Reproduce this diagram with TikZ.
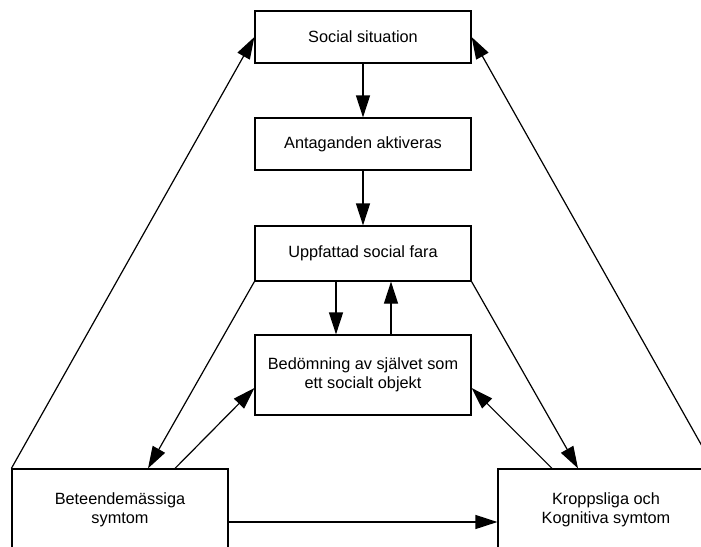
\documentclass[tikz,border=0pt]{standalone}
\usepackage{fontspec}
\setmainfont{Liberation Sans}
\usetikzlibrary{arrows.meta}
\begin{document}
\begin{tikzpicture}[x=1pt,y=-1pt,
  box/.style={draw,line width=1.2pt,minimum width=216pt,align=center,inner sep=0pt,
    font=\fontsize{16.3}{18.5}\selectfont},
  arr/.style={line width=1.2pt,-{Triangle[length=22pt,width=14pt]}},
  ln/.style={line width=1.2pt}]
\useasboundingbox (0,0) rectangle (701,546);
\clip (0,0) rectangle (701,546);
\fill[white] (0,0) rectangle (701,546);
\node[box,minimum height=52pt] (soc) at (363,37) {Social situation};
\node[box,minimum height=52pt] (ant) at (363,144) {Antaganden aktiveras};
\node[box,minimum height=55pt] (upp) at (363,253.5) {Uppfattad social fara};
\node[box,minimum height=80pt] (bed) at (363,375) {Bedömning av självet som\\ett socialt objekt};
\node[box,minimum height=82pt] (bet) at (120,510) {Beteendemässiga\\symtom};
\node[box,minimum height=82pt] (kro) at (606,510) {Kroppsliga och\\Kognitiva symtom};
\draw[arr] (soc) -- (ant);
\draw[arr] (ant) -- (upp);
\draw[arr] ([xshift=-27pt]upp.south) -- ([xshift=-27pt]bed.north);
\draw[arr] ([xshift=28pt]bed.north) -- ([xshift=28pt]upp.south);
\draw[arr] (bet.north west) -- (soc.west);
\draw[arr] (kro.north east) -- (soc.east);
\draw[arr] (upp.south west) -- ([xshift=28pt]bet.north);
\draw[arr] ([xshift=55pt]bet.north) -- ([yshift=-13pt]bed.west);
\draw[arr] (upp.south east) -- ([xshift=-28pt]kro.north);
\draw[arr] ([xshift=-54pt]kro.north) -- ([yshift=-13pt]bed.east);
\draw[arr] ([yshift=-12pt]bet.east) -- ([yshift=-12pt]kro.west);
\end{tikzpicture}
\end{document}
